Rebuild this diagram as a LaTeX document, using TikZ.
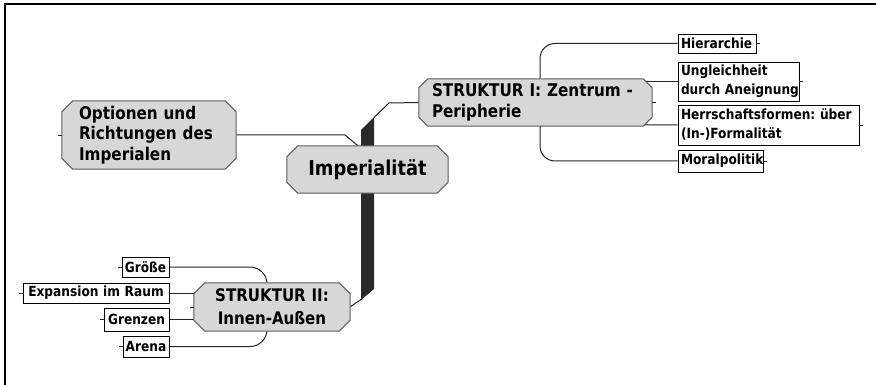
\documentclass[tikz,border=0pt]{standalone}
\usepackage{fontspec}
\newfontfamily\tah{DejaVu Sans}[FakeStretch=0.87]
\frenchspacing
\pgfdeclarelayer{paper}
\pgfdeclarelayer{lines}
\pgfdeclarelayer{bg}
\pgfsetlayers{paper,lines,bg,main}
\definecolor{nodegray}{HTML}{D7D7D7}
\definecolor{edgegray}{HTML}{5E5E5E}
\definecolor{bardark}{HTML}{2A2A2A}
\tikzset{
  bigfont/.style={font={\tah\bfseries\frenchspacing\fontsize{20.5}{24}\selectfont}},
  midfont/.style={font={\tah\bfseries\frenchspacing\fontsize{17.5}{20.5}\selectfont}},
  smallfont/.style={font={\tah\bfseries\frenchspacing\fontsize{14}{19}\selectfont}},
  mainbox/.style={inner ysep=0pt, midfont},
  leafbox/.style={draw=black, line width=0.9pt, fill=white, inner ysep=0pt, smallfont},
  octstyle/.style={fill=nodegray, draw=edgegray, line width=1pt},
  conn/.style={draw=black!85, line width=1pt},
  tick/.style={draw=black!85, line width=0.8pt},
}
\newcommand\octo[2]{\filldraw[octstyle] ([xshift=#2]#1.north west) -- ([xshift=-#2]#1.north east) -- ([yshift=-#2]#1.north east) -- ([yshift=#2]#1.south east) -- ([xshift=-#2]#1.south east) -- ([xshift=#2]#1.south west) -- ([yshift=#2]#1.south west) -- ([yshift=-#2]#1.north west) -- cycle;}
\begin{document}
\begin{tikzpicture}[x=1pt,y=-1pt]
\useasboundingbox (0,0) rectangle (876,385);
\begin{pgfonlayer}{paper}
\fill[white] (0,0) rectangle (876,385);
\end{pgfonlayer}
% frame
\draw[line width=2.2pt] (4.6,385) -- (4.6,4.3) -- (876,4.3);

% main nodes
\node[mainbox, bigfont, minimum height=47pt, inner xsep=0pt, text width=161pt, align=center] (imp) at (367.5,169.5) {Imperialität};
\node[mainbox, minimum height=68pt, inner xsep=17pt, text width=140pt, align=left] (opt) at (149,135) {\mbox{Optionen und}\\\mbox{Richtungen des}\\Imperialen};
\node[mainbox, minimum height=47pt, inner xsep=13pt, text width=207pt, align=left] (s1) at (535.5,102.5) {\mbox{STRUKTUR I: Zentrum -}\\Peripherie};
\node[mainbox, font={\tah\bfseries\frenchspacing\fontsize{17.3}{23}\selectfont}, minimum height=48pt, inner xsep=3pt, text width=150pt, align=center] (s2) at (272,307) {\mbox{STRUKTUR II:}\\Innen-Außen};

% leaves right
\node[leafbox, minimum height=19pt, inner xsep=3pt, text width=72pt, align=left] (h1) at (717,43.5) {Hierarchie};
\node[leafbox, minimum height=39pt, inner xsep=3pt, text width=115pt, align=left] (h2) at (738.5,81.5) {Ungleichheit\\\mbox{durch Aneignung}};
\node[leafbox, minimum height=40pt, inner xsep=3pt, text width=175pt, align=left] (h3) at (768.5,125) {\mbox{Herrschaftsformen: über}\\(In-)Formalität};
\node[leafbox, minimum height=22pt, inner xsep=3pt, text width=79pt, align=left] (h4) at (720.5,161) {Moralpolitik};

% leaves left
\node[leafbox, minimum height=20pt, inner xsep=2pt, text width=43pt, align=center] (g1) at (145.5,267) {Größe};
\node[leafbox, minimum height=20pt, inner xsep=3pt, text width=140pt, align=center] (g2) at (96,293) {\mbox{Expansion im Raum}};
\node[leafbox, minimum height=23pt, inner xsep=3pt, text width=59pt, align=center] (g3) at (136.5,319.5) {Grenzen};
\node[leafbox, minimum height=21pt, inner xsep=2pt, text width=42pt, align=center] (g4) at (146,346.5) {Arena};

% octagon outlines
\begin{pgfonlayer}{bg}
\octo{imp}{11pt}
\octo{opt}{11pt}
\octo{s1}{9pt}
\octo{s2}{11pt}
\end{pgfonlayer}

% connectors
\begin{pgfonlayer}{lines}
\fill[bardark] (361,130) -- (374,117) -- (374,289) -- (361,300) -- cycle;
\draw[conn] (opt.east) -- (345,135) -- ([xshift=-9.5pt]imp.north);
\draw[conn] (374,117.5) -- (389,103) -- (s1.west);
\draw[conn] (s2.east) -- (355.5,303) -- (362,299);
\draw[conn, rounded corners=15pt] (540,100) |- (h1.west);
\draw[conn, rounded corners=15pt] (540,100) |- (h4.west);
\draw[conn] (600,81.5) -- (h2.west);
\draw[conn] (600,124.5) -- (h3.west);
\draw[conn, rounded corners=17pt] (267,305) |- (g1.east);
\draw[conn, rounded corners=17pt] (267,310) |- (g4.east);
\draw[conn] (230,293) -- (g2.east);
\draw[conn] (230,319.5) -- (g3.east);
\end{pgfonlayer}

% collapse ticks
\draw[tick] (opt.west) -- ++(-4,0);
\draw[tick] (s1.east) -- ++(4,0);
\draw[tick] (s2.west) -- ++(-4,0);
\foreach \n in {h1,h2,h3,h4} \draw[tick] (\n.east) -- ++(4,0);
\foreach \n in {g1,g2,g3,g4} \draw[tick] (\n.west) -- ++(-4,0);
\end{tikzpicture}
\end{document}
